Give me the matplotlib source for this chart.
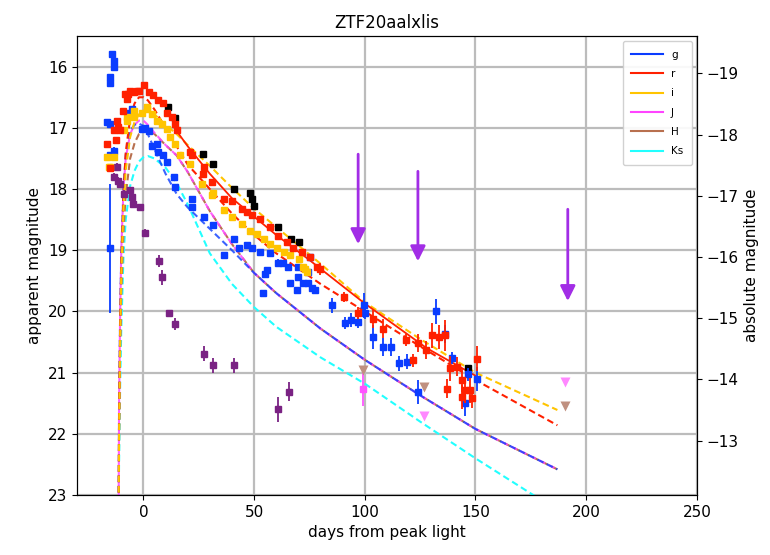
import matplotlib
matplotlib.use("Agg")
import matplotlib.pyplot as plt
from matplotlib.lines import Line2D

# ---------------- data ----------------
title = "ZTF20aalxlis"
dist_mod = 35.11

# g band (days, mag, err)
g_days = [-14.1, -13.4, -13.4, -14.9, -14.9, -16.4, -14.9, -13.5, -14.9, -15.3,
          -6.8, -5.1, -0.6, 0.9, 2.3, 3.9, 6.2, 6.8, 9.0, 10.7, 13.7, 14.4,
          22.0, 22.0, 27.2, 31.3, 36.2, 40.8, 43.0, 46.8, 49.0, 52.8, 55.0, 57.3,
          61.0, 65.4, 70.0, 70.0, 74.5, 54.2, 56.0, 63.2, 66.3, 69.5, 72.2, 74.5,
          76.3, 77.6, 75.4,
          85.2, 91.2, 93.9, 96.9, 99.7, 100.0, 103.8, 108.3, 111.8, 115.5, 119.0,
          124.1, 132.3, 136.3, 139.3, 146.8, 145.3, 150.6]
g_mags = [15.79, 15.90, 16.01, 16.17, 16.26, 16.91, 16.93, 17.37, 17.45, 18.97,
          16.75, 16.69, 17.02, 17.01, 17.05, 17.29, 17.26, 17.40, 17.45, 17.56, 17.80, 17.97,
          18.17, 18.30, 18.46, 18.58, 19.08, 18.81, 18.97, 18.92, 18.97, 19.03, 19.38, 19.05,
          19.20, 19.28, 19.28, 19.44, 19.36, 19.70, 19.33, 19.21, 19.54, 19.65, 19.54, 19.54,
          19.62, 19.65, 19.11,
          19.90, 20.19, 20.14, 20.17, 19.90, 20.03, 20.42, 20.58, 20.58, 20.85, 20.82,
          21.32, 20.00, 20.37, 20.76, 21.03, 21.50, 21.10]
g_errs = [0.05] * 9 + [1.05] + [0.05] * 39 + \
         [0.12, 0.10, 0.12, 0.10, 0.20, 0.10, 0.20, 0.15, 0.15, 0.12, 0.12,
          0.20, 0.20, 0.15, 0.10, 0.10, 0.20, 0.20]

# r band
r_days = [-16.4, -14.9, -13.5, -12.6, -11.9, -11.3, -10.4, -9.0, -8.1, -7.4, -6.8, -5.9,
          -4.4, -2.8, -2.1, 0.1, 2.3, 4.5, 6.8, 9.0, 10.7, 13.0, 14.4, 15.2, 21.2, 22.0,
          27.2, 27.1, 31.0, 36.2, 40.0, 44.5, 46.8, 49.0, 52.8, 57.3, 61.0, 64.8, 67.7,
          71.6, 75.4, 78.4,
          79.9, 90.4, 96.9, 103.9, 108.4, 118.7, 121.7, 124.1, 127.5, 130.3, 133.7,
          136.3, 138.5, 137.0, 141.5, 143.8, 145.3, 148.3, 150.6, 143.8, 147.6]
r_mags = [17.26, 17.66, 17.04, 17.20, 16.88, 16.99, 17.04, 16.72, 16.44, 16.53, 16.44, 16.39,
          16.42, 16.39, 16.39, 16.30, 16.42, 16.47, 16.55, 16.60, 16.75, 16.83, 16.93, 17.04,
          17.40, 17.45, 17.64, 17.75, 17.89, 18.16, 18.19, 18.32, 18.38, 18.43, 18.49,
          18.62, 18.76, 18.87, 18.97, 19.03, 19.11, 19.27,
          19.30, 19.76, 20.02, 20.12, 20.28, 20.47, 20.80, 20.52, 20.63, 20.39, 20.42,
          20.39, 20.93, 21.26, 20.90, 21.12, 21.29, 21.42, 20.77, 21.40, 21.29]
r_errs = [0.04] * 42 + [0.10, 0.08, 0.10, 0.15, 0.15, 0.10, 0.10, 0.15, 0.15, 0.20, 0.20,
                        0.25, 0.20, 0.15, 0.15, 0.20, 0.20, 0.15, 0.20, 0.20, 0.20]

# i band
i_days = [-16.4, -15.7, -14.9, -13.4, -8.9, -7.4, -7.4, -4.4, -4.4, -0.6, 1.7, 1.7, 3.9, 6.2,
          8.4, 10.7, 12.2, 14.4, 16.7, 21.2, 26.5, 31.0, 31.6, 36.2, 40.0, 44.5, 48.3,
          51.3, 54.3, 57.3, 60.3, 63.3, 66.3, 70.1, 72.3, 73.1, 73.9]
i_mags = [17.48, 17.64, 17.64, 17.48, 17.04, 16.88, 16.83, 16.83, 16.72, 16.75, 16.69, 16.66,
          16.77, 16.88, 16.93, 17.02, 17.15, 17.26, 17.45, 17.59, 17.92, 18.10, 18.07,
          18.35, 18.46, 18.57, 18.68, 18.73, 18.81, 18.89, 18.97, 19.03, 19.08, 19.14,
          19.27, 19.30, 19.35]

# black points (extra band, not in legend)
k_days = [11.1, 14.1, 26.7, 31.5, 41.1, 48.0, 49.0, 50.1, 60.8, 66.7, 70.1, 146.5]
k_mags = [16.66, 16.84, 17.43, 17.59, 18.00, 18.06, 18.16, 18.27, 18.62, 18.81, 18.87, 20.92]

# purple points (UV band, not in legend)
uv_days = [-13.4, -11.9, -11.3, -10.4, -8.9, -5.9, -5.1, -4.5, -1.4, 0.9, 6.9, 8.4,
           11.4, 14.4, 27.2, 31.4, 41.1, 61.0, 65.9]
uv_mags = [17.80, 17.64, 17.86, 17.91, 18.08, 18.02, 18.13, 18.24, 18.30, 18.71, 19.17, 19.44,
           20.03, 20.21, 20.69, 20.88, 20.88, 21.60, 21.31]
uv_errs = [0.06] * 10 + [0.10, 0.12, 0.05, 0.10, 0.12, 0.12, 0.12, 0.20, 0.15]

# NIR detections / upper limits
j_det_days, j_det_mags, j_det_errs = [99.0], [21.26], [0.28]
j_lim_days, j_lim_mags = [126.6, 190.3], [21.70, 21.15]
h_lim_days, h_lim_mags = [99.0, 126.6, 190.3], [20.95, 21.23, 21.55]

# spectral epochs (arrows): day, start mag, tip mag
arrow_days = [97.0, 124.0, 191.7]
arrow_top = [17.43, 17.71, 18.33]
arrow_tip = [18.90, 19.18, 19.83]

# model light curves
model_days = [-11.2, -11.0, -10.5, -10.0, -9.0, -8.0, -6.0, -4.0, -2.0, 0.0, 2.0, 5.0,
              10.0, 15.0, 20.0, 30.0, 40.0, 50.0, 60.0, 80.0, 100.0, 125.0, 150.0, 187.0]
model_g = [23.3, 21.5, 20.0, 19.1, 18.0, 17.45, 17.05, 16.95, 16.93, 16.97, 17.1, 17.35,
           17.75, 18.08, 18.3, 18.65, 19.0, 19.37, 19.7, 20.28, 20.79, 21.37, 21.92, 22.58]
model_r = [23.3, 21.8, 20.2, 19.2, 18.1, 17.4, 16.85, 16.6, 16.5, 16.5, 16.55, 16.7,
           17.0, 17.3, 17.6, 18.0, 18.4, 18.75, 19.05, 19.55, 20.0, 20.57, 21.12, 21.86]
model_i = [23.3, 22.0, 20.4, 19.4, 18.3, 17.7, 17.15, 16.9, 16.78, 16.72, 16.72, 16.78,
           16.95, 17.1, 17.28, 17.62, 17.98, 18.32, 18.62, 19.22, 19.85, 20.45, 21.0, 21.61]
model_J = [23.3, 21.5, 20.0, 19.0, 18.0, 17.5, 17.1, 16.95, 16.88, 16.88, 16.95, 17.08,
           17.28, 17.45, 17.72, 18.36, 18.9, 19.37, 19.7, 20.28, 20.79, 21.37, 21.92, 22.58]
model_H = [23.3, 22.0, 20.6, 19.7, 18.7, 18.1, 17.5, 17.25, 17.1, 17.05, 17.03, 17.1,
           17.28, 17.45, 17.72, 18.36, 18.9, 19.37, 19.7, 20.28, 20.79, 21.37, 21.92, 22.58]
model_Ks = [23.3, 22.5, 21.2, 20.3, 19.1, 18.5, 17.95, 17.7, 17.55, 17.48, 17.46, 17.5,
            17.65, 17.9, 18.25, 19.05, 19.55, 19.93, 20.25, 20.75, 21.18, 21.8, 22.4, 23.25]

# a solid red fit through r data
fit_days = [15.0, 20.0, 30.0, 40.0, 50.0, 60.0, 75.0, 100.0, 128.0, 150.0]
fit_r = [17.05, 17.3, 17.75, 18.15, 18.45, 18.75, 19.16, 19.87, 20.6, 21.05]

legend_labels = ["g", "r", "i", "J", "H", "Ks"]

# ---------------- style ----------------
c_g, c_r, c_i = "#0a3cff", "#ff2000", "#ffc400"
c_J, c_H, c_Ks = "#ff44ff", "#b8704f", "#22ffff"
c_uv = "#7a2283"
c_arrow = "#a22de6"

plt.rcParams["font.family"] = "DejaVu Sans"
fig = plt.figure(figsize=(7.7, 5.55), dpi=100)
ax = fig.add_axes([0.100, 0.108, 0.805, 0.827])

ax.grid(True, color="#bcbcbc", lw=1.6, zorder=0)
ax.set_axisbelow(True)

dash = (0, (3.2, 1.8))
ax.plot(model_days, model_Ks, color=c_Ks, lw=1.5, ls=dash, zorder=2)
ax.plot(model_days, model_H, color=c_H, lw=1.5, ls=dash, zorder=2)
ax.plot(model_days, model_J, color=c_J, lw=1.5, ls=(2.5, (3.2, 1.8)), zorder=2, alpha=0.85)
ax.plot(model_days, model_g, color=c_g, lw=1.5, ls=dash, zorder=2, alpha=0.8)
ax.plot(model_days, model_r, color=c_r, lw=1.5, ls=dash, zorder=2)
ax.plot(model_days, model_i, color=c_i, lw=1.5, ls=dash, zorder=2)
ax.plot(fit_days, fit_r, color=c_r, lw=1.3, zorder=2)

ms = 4.6
ew = 1.3
ax.errorbar(uv_days, uv_mags, yerr=uv_errs, fmt="s", color=c_uv, ms=ms, elinewidth=ew, capsize=0, zorder=3)
ax.errorbar(g_days, g_mags, yerr=g_errs, fmt="s", color=c_g, ms=ms, elinewidth=ew, capsize=0, zorder=4)
ax.errorbar(i_days, i_mags, yerr=[0.04] * len(i_days), fmt="s", color=c_i, ms=ms, elinewidth=ew, capsize=0, zorder=4)
ax.errorbar(r_days, r_mags, yerr=r_errs, fmt="s", color=c_r, ms=ms, elinewidth=ew, capsize=0, zorder=5)
ax.plot(k_days, k_mags, "s", color="black", ms=ms, zorder=3)

ax.errorbar(j_det_days, j_det_mags, yerr=j_det_errs, fmt="s", color="#ff55ff", ms=ms, elinewidth=ew, capsize=0, zorder=4)
ax.plot(j_lim_days, j_lim_mags, "v", color="#ff88ff", ms=7.5, zorder=4, mec="none")
ax.plot(h_lim_days, h_lim_mags, "v", color="#c09080", ms=7.5, zorder=4, mec="none")

for d, y0, y1 in zip(arrow_days, arrow_top, arrow_tip):
    ax.annotate("", xy=(d, y1), xytext=(d, y0),
                arrowprops=dict(arrowstyle="-|>,head_length=0.9,head_width=0.45",
                                color=c_arrow, lw=2.0, shrinkA=0, shrinkB=0), zorder=6)

ax.set_xlim(-30, 250)
ax.set_ylim(23, 15.5)
ax.set_xticks([0, 50, 100, 150, 200, 250])
ax.set_yticks([16, 17, 18, 19, 20, 21, 22, 23])
ax.tick_params(labelsize=11)
ax.set_xlabel("days from peak light", fontsize=11)
ax.set_ylabel("apparent magnitude", fontsize=11)
ax.set_title(title, fontsize=12)

ax2 = ax.twinx()
ax2.set_ylim(23 - dist_mod, 15.5 - dist_mod)
ax2.set_yticks([-19, -18, -17, -16, -15, -14, -13])
ax2.set_yticklabels(["\u221219", "\u221218", "\u221217", "\u221216", "\u221215", "\u221214", "\u221213"])
ax2.tick_params(labelsize=11)
ax2.set_ylabel("absolute magnitude", fontsize=11)

handles = [Line2D([0], [0], color=c, lw=1.5) for c in [c_g, c_r, c_i, c_J, c_H, c_Ks]]
ax.legend(handles, legend_labels, loc="upper right", fontsize=7.5, handlelength=3.0,
          borderpad=0.8, labelspacing=0.9, framealpha=0.9)

fig.savefig("out.png", dpi=100)
